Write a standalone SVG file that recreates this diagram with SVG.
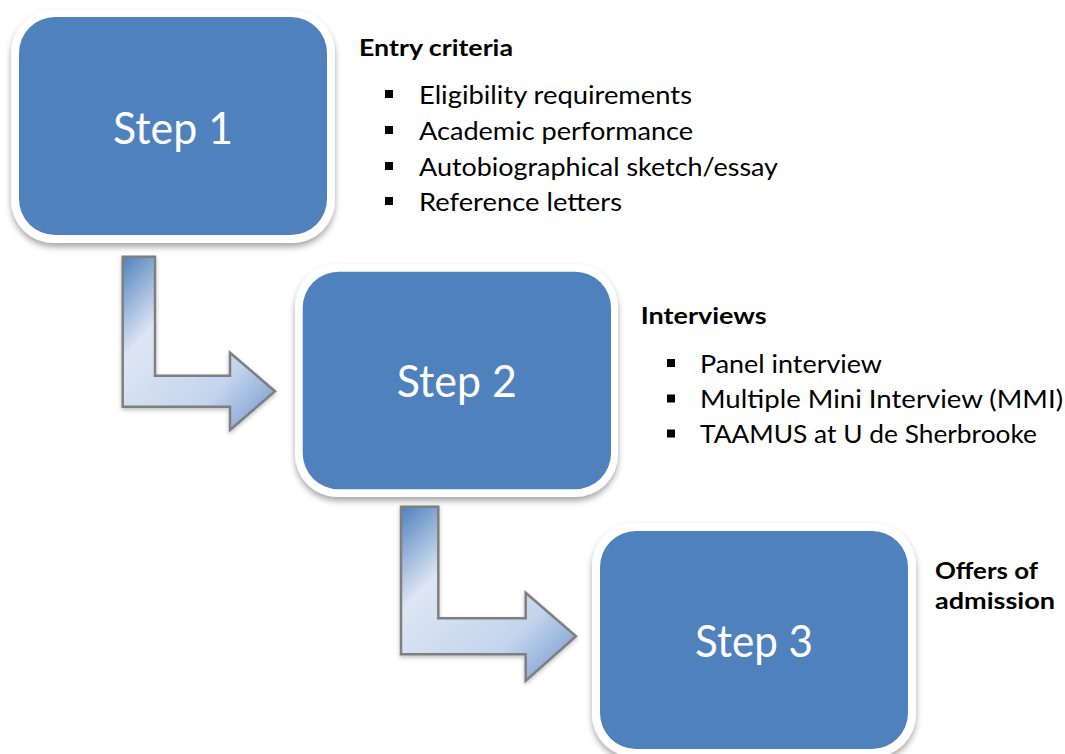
<svg xmlns="http://www.w3.org/2000/svg" width="1065" height="754" viewBox="0 0 1065 754">
<style>
.frame{fill:#ffffff;filter:url(#shadow)}
.box{fill:#4f81bd}
.step{font-family:Lato,"Open Sans","Liberation Sans",sans-serif;font-size:45px;fill:#ffffff;text-anchor:middle}
.head{font-family:Lato,"Open Sans","Liberation Sans",sans-serif;font-size:23px;font-weight:bold;fill:#000000}
.item{font-family:Lato,"Open Sans","Liberation Sans",sans-serif;font-size:25px;fill:#000000}
.bullet{fill:#000000}
.arrow{fill:url(#arrowGrad);stroke:#7f7f7f;stroke-width:2.5;stroke-linejoin:miter;filter:url(#ashadow)}
</style>
<defs>
<filter id="shadow" x="-10%" y="-10%" width="120%" height="125%">
<feDropShadow dx="0" dy="4" stdDeviation="3" flood-color="#000000" flood-opacity="0.35"/>
</filter>
<filter id="ashadow" x="-10%" y="-10%" width="120%" height="125%">
<feDropShadow dx="0" dy="2" stdDeviation="2" flood-color="#000000" flood-opacity="0.25"/>
</filter>
<linearGradient id="arrowGrad" x1="0" y1="0" x2="1" y2="1">
<stop offset="0" stop-color="#4f81bd"/>
<stop offset="0.3" stop-color="#dde6f3"/>
<stop offset="0.7" stop-color="#c3d4ed"/>
<stop offset="1" stop-color="#6e94cc"/>
</linearGradient>
</defs>
<rect width="1065" height="754" fill="#ffffff"/>
<g id="connectors">
<path class="arrow" d="M122.7,256.7 L155,256.7 L155,375.7 L230,375.7 L230,352.7 L275,391.2 L230,430 L230,406.7 L122.7,406.7 Z"/>
<path class="arrow" d="M401,506.7 L438.3,506.7 L438.3,618.3 L525.7,618.3 L525.7,592.7 L576,636.3 L525.7,680.7 L525.7,654.3 L401,654.3 Z"/>
</g>
<g id="step1">
<rect class="frame" x="11" y="10" width="324" height="233" rx="43"/>
<rect class="box" x="19" y="17" width="308" height="218" rx="36"/>
<text class="step" x="173" y="144" textLength="120" lengthAdjust="spacingAndGlyphs">Step 1</text>
</g>
<g id="step2">
<rect class="frame" x="295" y="264" width="323" height="233" rx="43"/>
<rect class="box" x="302.7" y="271.7" width="308.3" height="217.6" rx="36"/>
<text class="step" x="456.8" y="396.7" textLength="120" lengthAdjust="spacingAndGlyphs">Step 2</text>
</g>
<g id="step3">
<rect class="frame" x="592" y="523" width="324" height="234" rx="43"/>
<rect class="box" x="600" y="531" width="308" height="218" rx="36"/>
<text class="step" x="754" y="656.7" textLength="118" lengthAdjust="spacingAndGlyphs">Step 3</text>
</g>
<g id="entry-criteria">
<text class="head" x="359" y="56" textLength="154" lengthAdjust="spacingAndGlyphs">Entry criteria</text>
<rect class="bullet" x="385" y="90" width="8" height="8"/>
<text class="item" x="419" y="104" textLength="273" lengthAdjust="spacingAndGlyphs">Eligibility requirements</text>
<rect class="bullet" x="385" y="126" width="8" height="8"/>
<text class="item" x="419" y="139.5" textLength="274" lengthAdjust="spacingAndGlyphs">Academic performance</text>
<rect class="bullet" x="385" y="162" width="8" height="8"/>
<text class="item" x="419" y="175.5" textLength="359" lengthAdjust="spacingAndGlyphs">Autobiographical sketch/essay</text>
<rect class="bullet" x="385" y="197" width="8" height="8"/>
<text class="item" x="419" y="211" textLength="203" lengthAdjust="spacingAndGlyphs">Reference letters</text>
</g>
<g id="interviews">
<text class="head" x="640.7" y="324" textLength="126" lengthAdjust="spacingAndGlyphs">Interviews</text>
<rect class="bullet" x="667" y="359" width="8" height="8"/>
<text class="item" x="700" y="372.7" textLength="182" lengthAdjust="spacingAndGlyphs">Panel interview</text>
<rect class="bullet" x="667" y="394.5" width="8" height="8"/>
<text class="item" x="700" y="408.3" textLength="363" lengthAdjust="spacingAndGlyphs">Multiple Mini Interview (MMI)</text>
<rect class="bullet" x="667" y="429.5" width="8" height="8"/>
<text class="item" x="700" y="443.3" textLength="337" lengthAdjust="spacingAndGlyphs">TAAMUS at U de Sherbrooke</text>
</g>
<g id="offers">
<text class="head" x="935" y="579.3" textLength="103" lengthAdjust="spacingAndGlyphs">Offers of</text>
<text class="head" x="935" y="609.3" textLength="120" lengthAdjust="spacingAndGlyphs">admission</text>
</g>
</svg>
